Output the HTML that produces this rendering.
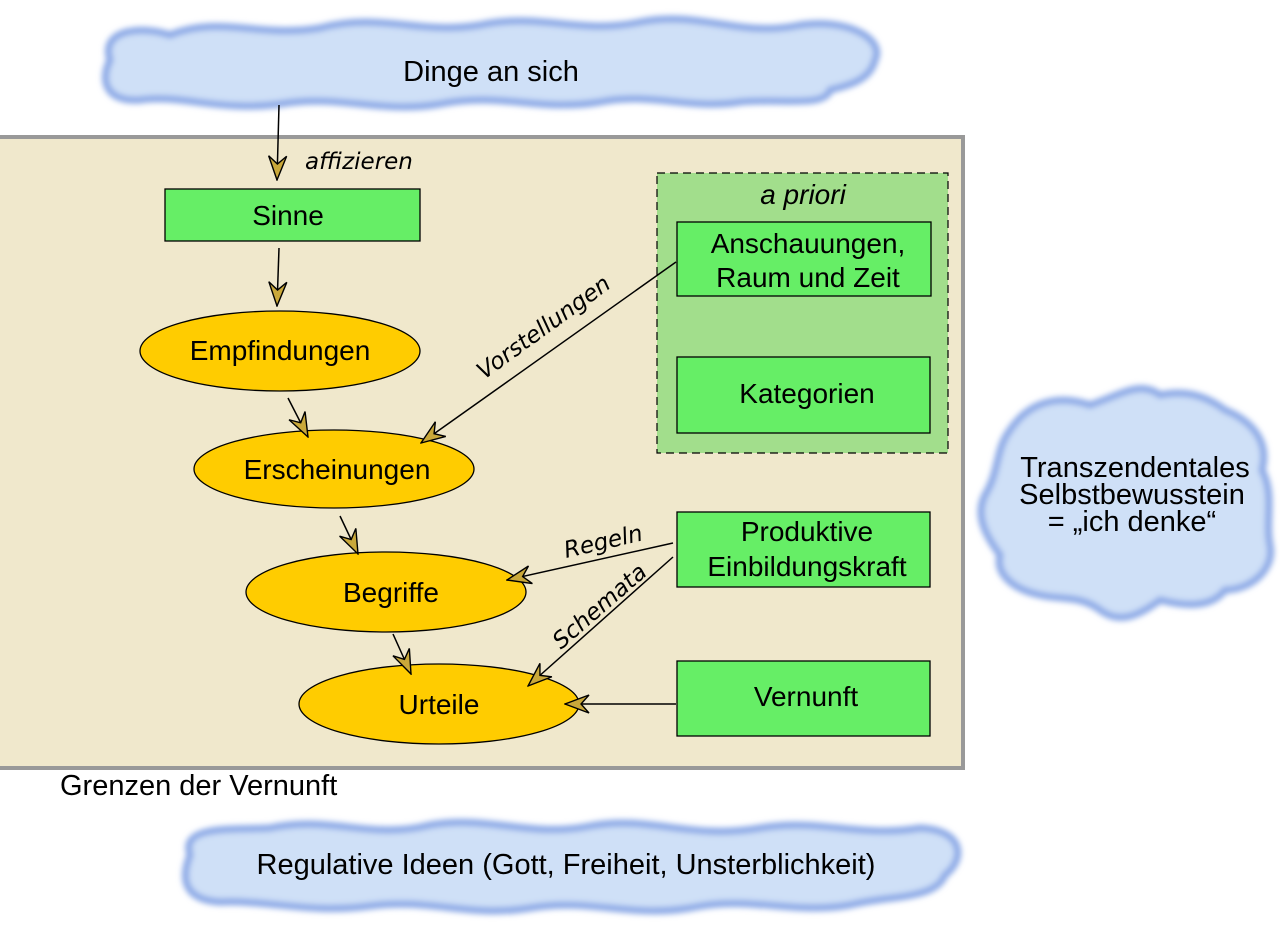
<!DOCTYPE html>
<html><head><meta charset="utf-8"><style>
html,body{margin:0;padding:0;background:#fff;}
svg{display:block;font-family:"Liberation Sans",sans-serif;}
</style></head><body>
<svg width="1280" height="925" viewBox="0 0 1280 925">
<defs>
<filter id="bl" x="-10%" y="-10%" width="120%" height="120%"><feGaussianBlur stdDeviation="3"/></filter>
<marker id="ah" viewBox="0 0 26 20" refX="25" refY="10" markerWidth="26" markerHeight="20" markerUnits="userSpaceOnUse" orient="auto">
<path d="M25,10 L1,1 L9,10 L1,19 Z" fill="#c9a83a" stroke="#000" stroke-width="1.4" stroke-linejoin="miter"/>
</marker>
</defs>
<g filter="url(#bl)" fill="#cfe0f7" stroke="#8aa8e6" stroke-width="7">
<path d="M110,60 C100,30 140,25 170,35 C220,15 260,38 320,28 C380,12 420,35 480,25 C540,12 580,35 640,22 C700,10 740,38 800,25 C850,18 885,40 875,60 C870,80 850,85 830,90 C825,108 780,98 740,102 C690,110 650,92 600,102 C540,112 500,92 440,104 C380,114 340,94 280,104 C220,112 180,94 140,100 C105,102 100,80 110,60 Z"/>
<path d="M190,855 C180,825 230,830 270,828 C330,815 370,840 430,825 C490,815 530,838 590,826 C650,815 690,840 760,828 C820,818 860,838 920,828 C965,830 965,860 945,875 C935,900 890,895 850,905 C790,915 750,895 690,908 C630,918 590,898 530,908 C470,918 430,898 370,906 C310,914 270,900 220,902 C185,900 180,880 190,855 Z"/>
<path d="M1010,430 C1030,400 1060,395 1090,405 C1120,395 1140,380 1160,395 C1185,390 1205,395 1225,410 C1250,420 1270,440 1262,470 C1275,495 1265,520 1270,545 C1275,570 1250,590 1225,590 C1210,610 1180,605 1160,600 C1140,615 1120,625 1100,610 C1080,595 1060,600 1040,595 C1015,590 995,575 1000,555 C985,535 975,515 985,495 C1000,470 995,450 1010,430 Z"/>
</g>
<text x="491" y="81" font-size="29" text-anchor="middle">Dinge an sich</text>
<text x="566" y="874" font-size="29" text-anchor="middle">Regulative Ideen (Gott, Freiheit, Unsterblichkeit)</text>
<g font-size="29" text-anchor="middle"><text x="1135" y="477">Transzendentales</text><text x="1132" y="504">Selbstbewusstein</text><text x="1132" y="531">= „ich denke“</text></g>
<rect x="-4" y="137" width="967" height="631" fill="#f0e8cc" stroke="#999" stroke-width="4"/>
<text x="60" y="795" font-size="29">Grenzen der Vernunft</text>
<rect x="657" y="173" width="291" height="280" fill="#a2de8c" stroke="#000" stroke-width="1.2" stroke-dasharray="8,5"/>
<text x="803" y="204" font-size="28" font-style="italic" text-anchor="middle">a priori</text>
<g fill="#66ee66" stroke="#000" stroke-width="1.3">
<rect x="165" y="189" width="255" height="52"/>
<rect x="677" y="222" width="254" height="74"/>
<rect x="677" y="357" width="253" height="76"/>
<rect x="677" y="512" width="253" height="75"/>
<rect x="677" y="661" width="253" height="75"/>
</g>
<g fill="#ffcc00" stroke="#000" stroke-width="1.3">
<ellipse cx="280" cy="351" rx="140" ry="40"/>
<ellipse cx="334" cy="469" rx="140" ry="39"/>
<ellipse cx="386" cy="592" rx="140" ry="40"/>
<ellipse cx="439" cy="704" rx="140" ry="40"/>
</g>
<g font-size="28" text-anchor="middle">
<text x="288" y="225">Sinne</text>
<text x="808" y="253">Anschauungen,</text><text x="808" y="287">Raum und Zeit</text>
<text x="807" y="403">Kategorien</text>
<text x="807" y="541">Produktive</text><text x="807" y="576">Einbildungskraft</text>
<text x="806" y="706">Vernunft</text>
<text x="280" y="360">Empfindungen</text>
<text x="337" y="479">Erscheinungen</text>
<text x="391" y="602">Begriffe</text>
<text x="439" y="714">Urteile</text>
</g>
<g stroke="#000" stroke-width="1.5" fill="none" marker-end="url(#ah)">
<line x1="279" y1="105" x2="277" y2="180"/>
<line x1="279" y1="248" x2="277" y2="306"/>
<line x1="288" y1="398" x2="308" y2="437"/>
<line x1="340" y1="516" x2="358" y2="554"/>
<line x1="393" y1="634" x2="411" y2="674"/>
<line x1="676" y1="262" x2="421" y2="443"/>
<line x1="673" y1="543" x2="507" y2="580"/>
<line x1="673" y1="557" x2="528" y2="686"/>
<line x1="676" y1="704" x2="565" y2="704"/>
</g>
<g font-style="italic" font-family="'DejaVu Sans',sans-serif" font-size="23">
<text x="305" y="169">affizieren</text>
<text transform="translate(484,380) rotate(-36)">Vorstellungen</text>
<text transform="translate(566,558) rotate(-13)">Regeln</text>
<text transform="translate(561,650) rotate(-41)">Schemata</text>
</g>
</svg>
</body></html>
